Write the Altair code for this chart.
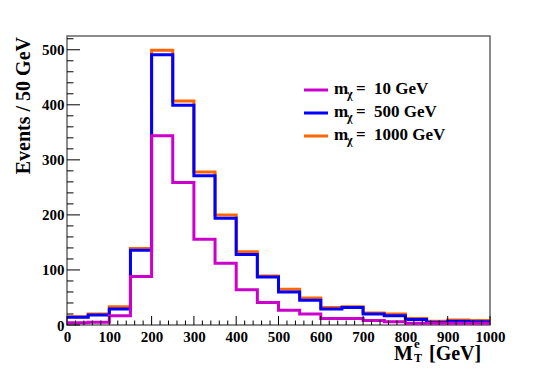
import altair as alt
import pandas as pd

# ---- data ----
bin_edges = [0, 50, 100, 150, 200, 250, 300, 350, 400, 450, 500,
             550, 600, 650, 700, 750, 800, 850, 900, 950, 1000]
m10 = [4, 5, 17, 88, 344, 259, 156, 112, 64, 41, 27, 20, 12, 12, 8, 6, 3, 3, 3, 3]
m500 = [14, 18, 29, 136, 491, 399, 271, 194, 128, 87, 60, 45, 29, 32, 20, 17, 10, 5, 7, 6]
m1000 = [15, 20, 33, 139, 499, 407, 278, 200, 133, 89, 65, 49, 32, 33, 22, 20, 12, 7, 9, 8]

series_names = ["10 GeV", "500 GeV", "1000 GeV"]
series_colors = ["#cc00cc", "#0000ff", "#ff6600"]

x_ticks = [0, 100, 200, 300, 400, 500, 600, 700, 800, 900, 1000]
y_ticks = [0, 100, 200, 300, 400, 500]
x_minor = [v for v in range(0, 1001, 20) if v % 100 != 0]
y_minor = [v for v in range(0, 521, 20) if v % 100 != 0]

W, H = 423, 289
FONT = "Liberation Serif, Times New Roman, serif"

xs = alt.Scale(domain=[0, 1000], nice=False, zero=False)
ys = alt.Scale(domain=[0, 525], nice=False, zero=False)
xaxis = alt.Axis(values=x_ticks, format="d", tickSize=0, domain=False, grid=False,
                 labelFont=FONT, labelFontWeight="bold", labelFontSize=15,
                 labelColor="black", labelPadding=4, labelFlush=False,
                 labelOverlap=False, title=None)
yaxis = alt.Axis(values=y_ticks, format="d", tickSize=0, domain=False, grid=False,
                 labelFont=FONT, labelFontWeight="bold", labelFontSize=15,
                 labelColor="black", labelPadding=3, labelOverlap=False,
                 title=None)

X = alt.X("x:Q", scale=xs, axis=xaxis)
Y = alt.Y("y:Q", scale=ys, axis=yaxis)


def hist_df(vals):
    return pd.DataFrame({"x": bin_edges, "y": vals + [vals[-1]]})


layers = []
for vals, col in [(m1000, series_colors[2]), (m500, series_colors[1]), (m10, series_colors[0])]:
    layers.append(
        alt.Chart(hist_df(vals)).mark_line(
            interpolate="step-after", strokeWidth=3, color=col, clip=True
        ).encode(x=X, y=Y)
    )

# inner ticks
xt_major = pd.DataFrame({"x": x_ticks})
xt_minor = pd.DataFrame({"x": x_minor})
yt_major = pd.DataFrame({"y": y_ticks})
yt_minor = pd.DataFrame({"y": y_minor})
layers.append(alt.Chart(xt_major).mark_rule(color="black", strokeWidth=1).encode(
    x=X, y=alt.value(H), y2=alt.value(H - 9)))
layers.append(alt.Chart(xt_minor).mark_rule(color="black", strokeWidth=1).encode(
    x=X, y=alt.value(H), y2=alt.value(H - 4.5)))
layers.append(alt.Chart(yt_major).mark_rule(color="black", strokeWidth=1).encode(
    y=Y, x=alt.value(0), x2=alt.value(13)))
layers.append(alt.Chart(yt_minor).mark_rule(color="black", strokeWidth=1).encode(
    y=Y, x=alt.value(0), x2=alt.value(6.5)))

# axis titles
dummy = pd.DataFrame({"a": [0]})


def txt(text, x, y, size, **kw):
    return alt.Chart(dummy).mark_text(
        text=text, font=FONT, fontWeight="bold", fontSize=size, color="black", **kw
    ).encode(x=alt.value(x), y=alt.value(y))


layers.append(txt("Events / 50 GeV", -37, 1, 20, angle=270, align="right", baseline="alphabetic"))
layers.append(txt("M", 327, 323.5, 20, align="left", baseline="alphabetic"))
layers.append(txt("e", 347, 312, 13, align="left", baseline="alphabetic"))
layers.append(txt("T", 347, 325.5, 12, align="left", baseline="alphabetic"))
layers.append(txt("[GeV]", 362, 323.5, 20, align="left", baseline="alphabetic"))

# legend
leg_rows = [54, 77, 100]
for name, col, ry in zip(series_names, series_colors, leg_rows):
    layers.append(alt.Chart(dummy).mark_rule(color=col, strokeWidth=3).encode(
        x=alt.value(237), x2=alt.value(261), y=alt.value(ry)))
    by = ry + 4
    layers.append(txt("m", 267, by, 17, align="left", baseline="alphabetic"))
    layers.append(txt("χ", 280, by + 4, 12, align="left", baseline="alphabetic"))
    layers.append(txt("=", 289, by, 17, align="left", baseline="alphabetic"))
    layers.append(txt(name, 307, by, 17, align="left", baseline="alphabetic"))

chart = alt.layer(*layers).properties(
    width=W, height=H,
    autosize=alt.AutoSizeParams(type="none"),
    padding={"left": 59, "top": 28, "right": 47, "bottom": 38},
    background="white",
).configure_view(stroke="#666666", strokeWidth=1.5)

chart.save("out.html", embed_options={"renderer": "svg", "actions": False})
